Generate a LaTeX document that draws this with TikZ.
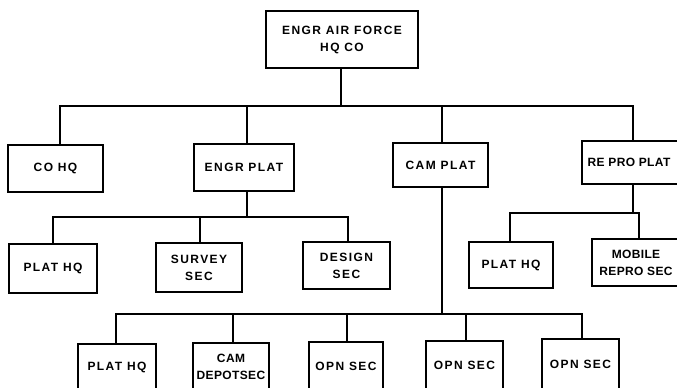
\documentclass[tikz,border=0pt]{standalone}
\usepackage{fontspec}
\setmainfont{Liberation Sans}[LetterSpace=12]
\begin{document}
\begin{tikzpicture}[x=1pt,y=-1pt,
  box/.style={draw, line width=2pt, inner sep=0pt, align=center,
    font=\bfseries\fontsize{12}{17}\selectfont},
  tight/.style={font=\bfseries\fontsize{12}{17}\selectfont\addfontfeatures{LetterSpace=3}},
  link/.style={line width=2.2pt, line cap=rect}]
\useasboundingbox (0,0) rectangle (677,388);
\clip (0,0) rectangle (677,388);
\fill[white] (0,0) rectangle (677,388);
% level 1
\node[box, minimum width=152, minimum height=57] (top) at (342,39.5) {ENGR AIR FORCE\\HQ CO};
% level 2
\node[box, minimum width=95, minimum height=47] (coho) at (55.5,168.5) {CO HQ};
\node[box, minimum width=100, minimum height=47] (engr) at (244,167.5) {ENGR PLAT};
\node[box, minimum width=95, minimum height=44] (cam) at (440.5,165) {CAM PLAT};
\node[box, tight, minimum width=102, minimum height=43] (repro) at (633,162.5) {\hspace*{-8pt}RE PRO PLAT};
% level 3
\node[box, minimum width=88, minimum height=49] (phqa) at (53,268.5) {PLAT HQ};
\node[box, minimum width=86, minimum height=49] (survey) at (199,267.5) {SURVEY\\SEC};
\node[box, minimum width=87, minimum height=47] (design) at (346.5,265.5) {DESIGN\\SEC};
\node[box, minimum width=84, minimum height=46] (phqb) at (511,265) {PLAT HQ};
\node[box, tight, minimum width=88, minimum height=47] (mobile) at (636,262.5) {MOBILE\\REPRO SEC};
% level 4
\node[box, minimum width=78, minimum height=46] (phqc) at (117,367) {PLAT HQ};
\node[box, tight, minimum width=76, minimum height=47] (depot) at (231,366.5) {CAM\\DEPOTSEC};
\node[box, minimum width=74, minimum height=48] (opna) at (346,366) {OPN SEC};
\node[box, minimum width=77, minimum height=49] (opnb) at (464.5,365.5) {OPN SEC};
\node[box, minimum width=77, minimum height=51] (opnc) at (580.5,364.5) {OPN SEC};
% buses
\coordinate (busa) at (0,106);
\coordinate (busb) at (0,217);
\coordinate (busc) at (0,213);
\coordinate (busd) at (0,314);
% top tree
\draw[link] ([xshift=-1pt]top.south) -- ([xshift=-1pt]top.south |- busa);
\draw[link] ([xshift=4.5pt]coho.north) |- (repro.north |- busa) -- (repro.north);
\draw[link] ([xshift=3pt]engr.north) -- ([xshift=3pt]engr.north |- busa);
\draw[link] ([xshift=1.5pt]cam.north) -- ([xshift=1.5pt]cam.north |- busa);
% engr plat tree
\draw[link] ([xshift=3pt]engr.south) -- ([xshift=3pt]engr.south |- busb);
\draw[link] (phqa.north) |- ([xshift=1.5pt]design.north |- busb) -- ([xshift=1.5pt]design.north);
\draw[link] ([xshift=1pt]survey.north) -- ([xshift=1pt]survey.north |- busb);
% repro plat tree
\draw[link] (repro.south) -- (repro.south |- busc);
\draw[link] ([xshift=-1pt]phqb.north) |- ([xshift=3pt]mobile.north |- busc) -- ([xshift=3pt]mobile.north);
% cam plat tree
\draw[link] ([xshift=1.5pt]cam.south) -- ([xshift=1.5pt]cam.south |- busd);
\draw[link] ([xshift=-1pt]phqc.north) |- ([xshift=1.5pt]opnc.north |- busd) -- ([xshift=1.5pt]opnc.north);
\draw[link] ([xshift=2pt]depot.north) -- ([xshift=2pt]depot.north |- busd);
\draw[link] ([xshift=1pt]opna.north) -- ([xshift=1pt]opna.north |- busd);
\draw[link] ([xshift=1.5pt]opnb.north) -- ([xshift=1.5pt]opnb.north |- busd);
\end{tikzpicture}
\end{document}
